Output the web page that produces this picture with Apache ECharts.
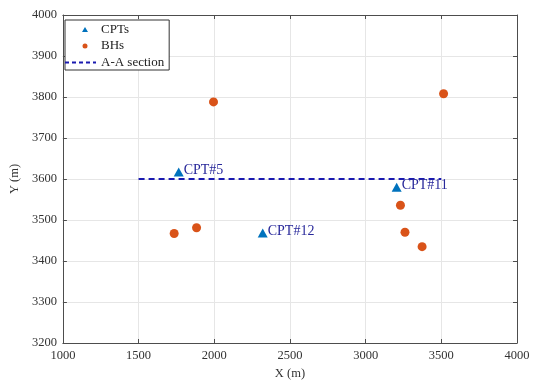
<!DOCTYPE html>
<html><head><meta charset="utf-8">
<script src="https://cdn.jsdelivr.net/npm/echarts@6/dist/echarts.min.js"></script>
<style>html,body{margin:0;padding:0;background:#fff}#c{width:538px;height:385px}</style>
</head><body><div id="c"></div>
<script>
var cptNames = ['CPT#5', 'CPT#11', 'CPT#12'];
var cptX = [1765, 3205, 2320];
var cptY = [3617, 3580, 3468];
var bhX = [1995, 3515, 1735, 1883, 3230, 3260, 3373];
var bhY = [3788, 3808, 3467, 3481, 3536, 3470, 3435];
var sectionX = [1500, 3500];
var sectionY = [3600, 3600];
var xTicks = [1000, 1500, 2000, 2500, 3000, 3500, 4000];
var yTicks = [3200, 3300, 3400, 3500, 3600, 3700, 3800, 3900, 4000];

var FONT = '"Liberation Serif", "DejaVu Serif", serif';
var chart = echarts.init(document.getElementById('c'), null, {renderer: 'canvas'});
function plain(v){ return String(v); }
var axisCommon = {
  type: 'value',
  axisLine: {show: true, lineStyle: {color: '#4d4d4d', width: 1}},
  axisTick: {show: true, inside: true, length: 4, lineStyle: {color: '#4d4d4d'}},
  splitLine: {show: true, lineStyle: {color: '#e6e6e6', width: 1}},
  axisLabel: {color: '#333', fontFamily: FONT, fontSize: 12.5, formatter: plain}
};
var option = {
  animation: false,
  backgroundColor: '#fff',
  grid: {left: 62, right: 21, top: 15, bottom: 39, containLabel: false},
  xAxis: [
    Object.assign({}, axisCommon, {min: xTicks[0], max: xTicks[xTicks.length-1], interval: 500,
      name: 'X (m)', nameLocation: 'middle', nameGap: 24,
      nameTextStyle: {color: '#333', fontFamily: FONT, fontSize: 12.5},
      axisLabel: {color: '#333', fontFamily: FONT, fontSize: 12.5, margin: 6, formatter: plain}}),
    Object.assign({}, axisCommon, {position: 'top', min: xTicks[0], max: xTicks[xTicks.length-1], interval: 500,
      axisLabel: {show: false}, splitLine: {show: false}})
  ],
  yAxis: [
    Object.assign({}, axisCommon, {min: yTicks[0], max: yTicks[yTicks.length-1], interval: 100,
      name: 'Y (m)', nameLocation: 'middle', nameGap: 31, nameRotate: 90,
      nameTextStyle: {color: '#333', fontFamily: FONT, fontSize: 12.5},
      axisLabel: {color: '#333', fontFamily: FONT, fontSize: 12.5, margin: 6, formatter: plain}}),
    Object.assign({}, axisCommon, {position: 'right', min: yTicks[0], max: yTicks[yTicks.length-1], interval: 100,
      axisLabel: {show: false}, splitLine: {show: false}})
  ],
  legend: {
    orient: 'vertical', left: 65, top: 20,
    backgroundColor: '#fff', borderColor: '#333', borderWidth: 1,
    padding: [3, 5, 1, 0], itemGap: 3.5, itemWidth: 31, itemHeight: 12,
    textStyle: {fontFamily: FONT, fontSize: 13, color: '#222'},
    data: [
      {name: 'CPTs', icon: 'path://M0,0 M31,12 M17,8.5 L20,3.5 L23,8.5 Z', itemStyle: {color: '#0072BD'}},
      {name: 'BHs', icon: 'path://M0,0 M31,12 M22.5,6 A2.5,2.5 0 1,1 17.5,6 A2.5,2.5 0 1,1 22.5,6 Z', itemStyle: {color: '#D95319'}},
      {name: 'A-A section', icon: 'path://M0,0 M31,12 M0,5h4v2h-4z M7,5h4v2h-4z M14,5h4v2h-4z M21,5h4v2h-4z M28,5h3v2h-3z', itemStyle: {color: '#1a1ab0'}}
    ]
  },
  series: [
    {
      name: 'A-A section', type: 'line', symbol: 'none',
      data: sectionX.map(function(x, i){ return [x, sectionY[i]]; }),
      lineStyle: {color: '#1a1ab0', width: 2, type: [6, 4]}, z: 2
    },
    {
      name: 'CPTs', type: 'scatter', symbol: 'triangle', symbolSize: [10, 9],
      itemStyle: {color: '#0072BD', opacity: 1},
      data: cptX.map(function(x, i){ return {value: [x, cptY[i]], name: cptNames[i]}; }),
      label: {show: true, position: 'right', distance: 0, formatter: '{b}',
        color: '#28289a', fontFamily: FONT, fontSize: 14, offset: [0, -2]}, z: 3
    },
    {
      name: 'BHs', type: 'scatter', symbol: 'circle', symbolSize: 9,
      itemStyle: {color: '#D95319', opacity: 1},
      data: bhX.map(function(x, i){ return [x, bhY[i]]; }), z: 3
    }
  ]
};
chart.setOption(option);
</script></body></html>
